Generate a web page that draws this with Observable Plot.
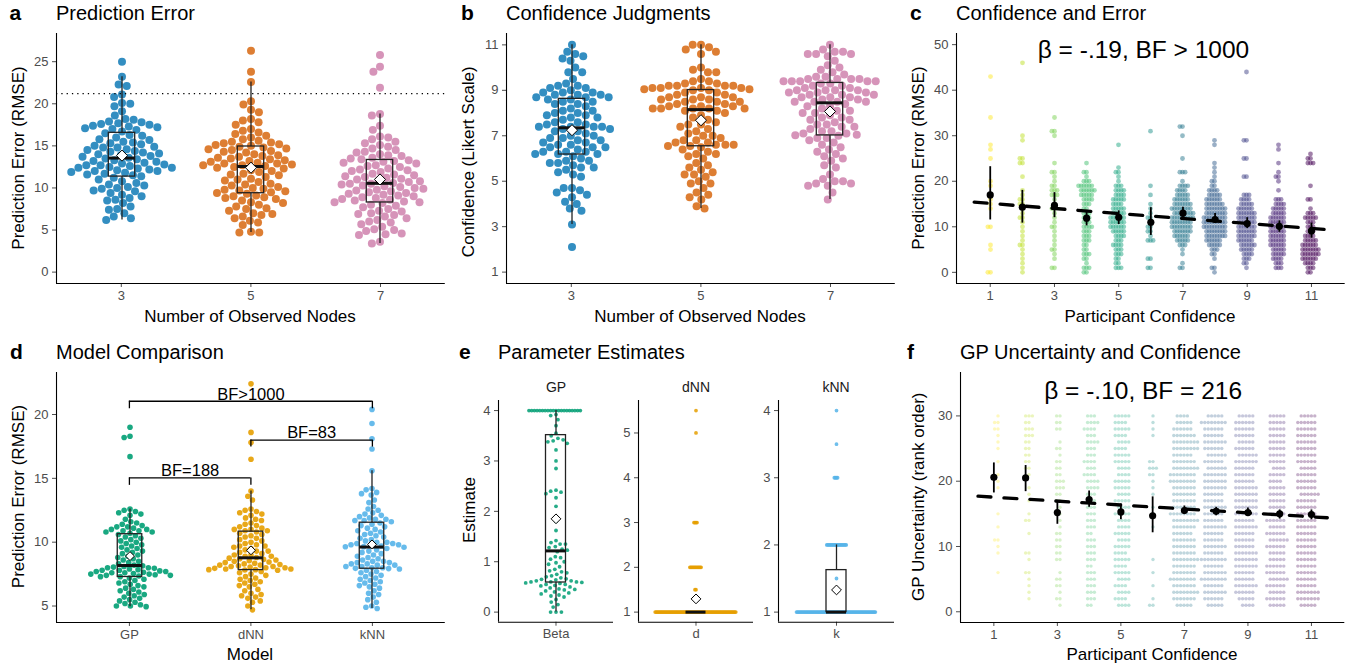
<!DOCTYPE html>
<html>
<head>
<meta charset="utf-8">
<script src="https://cdn.jsdelivr.net/npm/d3@7"></script>
<script src="https://cdn.jsdelivr.net/npm/@observablehq/plot@0.6"></script>
<style>
html, body { margin: 0; padding: 0; background: #fff; }
#fig { position: relative; width: 1353px; height: 665px; overflow: hidden; background: #fff; font-family: "Liberation Sans", Arial, Helvetica, sans-serif; }
.layer { position: absolute; }
.layer svg { display: block; max-width: none !important; }
#labels { position: absolute; left: 0; top: 0; pointer-events: none; }
</style>
</head>
<body>
<div id="fig"></div>
<script>
// ---------------- DATA ----------------
// Panel a/b: number of observed nodes
const nodeCats = [3, 5, 7];
const nodeColors = ["#0072B2", "#D55E00", "#CC79A7"];
const errNodes3 = [25.0, 23.2, 22.3, 22.1, 21.1, 20.8, 20.1, 20.0, 19.7, 19.1, 18.6, 18.2, 18.1, 17.9, 17.8, 17.7, 17.6, 17.5, 17.4, 17.3, 17.2, 17.1, 17.0, 16.9, 16.7,
  16.5, 16.3, 16.2, 16.0, 15.8, 15.7, 15.5, 15.4, 15.3, 15.2, 15.0, 14.9, 14.8, 14.8, 14.6, 14.5, 14.4, 14.3, 14.2, 14.1, 14.0, 13.9, 13.8, 13.7, 13.6,
  13.5, 13.4, 13.3, 13.2, 13.1, 13.0, 12.9, 12.8, 12.7, 12.7, 12.6, 12.5, 12.4, 12.4, 12.3, 12.2, 12.1, 12.0, 12.0, 11.9, 11.8, 11.7, 11.6, 11.5, 11.4,
  11.2, 11.0, 10.8, 10.6, 10.4, 10.3, 10.1, 10.0, 9.9, 9.7, 9.6, 9.4, 9.2, 9.0, 8.8, 8.6, 8.5, 8.2, 7.8, 7.5, 7.4, 7.0, 6.6, 6.4, 6.2];
const errNodes5 = [26.3, 23.8, 22.6, 20.3, 19.9, 19.3, 19.0, 18.2, 18.0, 17.8, 17.5, 17.0, 16.8, 16.6, 16.4, 16.2, 16.0, 15.8, 15.6, 15.5, 15.4, 15.3, 15.2, 15.1, 15.0,
  14.9, 14.8, 14.7, 14.6, 14.5, 14.4, 14.3, 14.2, 14.0, 13.9, 13.8, 13.7, 13.6, 13.5, 13.4, 13.3, 13.2, 13.1, 13.0, 12.9, 12.9, 12.8, 12.7, 12.7, 12.6,
  12.5, 12.4, 12.3, 12.1, 12.0, 11.9, 11.7, 11.6, 11.5, 11.3, 11.1, 11.0, 10.9, 10.7, 10.5, 10.4, 10.3, 10.1, 10.0, 9.9, 9.8, 9.7, 9.6, 9.5, 9.4,
  9.3, 9.1, 9.0, 8.9, 8.8, 8.7, 8.5, 8.3, 8.2, 8.0, 7.8, 7.6, 7.5, 7.3, 7.0, 6.9, 6.8, 6.6, 6.4, 6.1, 5.9, 5.6, 4.8, 4.7, 4.7];
const errNodes7 = [25.8, 24.4, 23.8, 21.9, 18.8, 18.6, 17.4, 16.9, 16.1, 16.0, 15.8, 15.5, 15.3, 15.1, 14.9, 14.7, 14.5, 14.3, 14.2, 14.0, 13.9, 13.8, 13.6, 13.5, 13.4,
  13.3, 13.2, 13.1, 13.0, 12.9, 12.7, 12.6, 12.5, 12.3, 12.2, 12.1, 12.0, 11.9, 11.7, 11.6, 11.5, 11.4, 11.3, 11.2, 11.1, 11.0, 10.9, 10.8, 10.7, 10.6,
  10.5, 10.5, 10.4, 10.3, 10.2, 10.1, 10.0, 9.9, 9.8, 9.7, 9.6, 9.5, 9.4, 9.3, 9.2, 9.1, 9.0, 8.9, 8.8, 8.7, 8.6, 8.5, 8.4, 8.3, 8.3,
  8.2, 8.0, 7.9, 7.7, 7.5, 7.3, 7.2, 7.0, 6.9, 6.8, 6.6, 6.4, 6.2, 6.0, 5.9, 5.7, 5.4, 5.1, 5.0, 4.9, 4.6, 4.5, 4.4, 3.6, 3.4];
const chanceRMSE = 21.2;
const confNodes3 = [11.0, 10.7, 10.6, 10.5, 10.4, 10.3, 10.0, 9.8, 9.8, 9.5, 9.3, 9.2, 9.2, 9.1, 9.1, 9.0, 8.9, 8.9, 8.9, 8.8, 8.8, 8.8, 8.7, 8.7, 8.7,
  8.6, 8.6, 8.5, 8.5, 8.4, 8.4, 8.3, 8.2, 8.1, 8.1, 8.0, 8.0, 7.9, 7.9, 7.8, 7.8, 7.7, 7.6, 7.6, 7.5, 7.5, 7.4, 7.4, 7.4, 7.4,
  7.3, 7.3, 7.2, 7.2, 7.1, 7.0, 7.0, 6.9, 6.9, 6.8, 6.8, 6.7, 6.7, 6.6, 6.6, 6.5, 6.5, 6.5, 6.4, 6.3, 6.3, 6.3, 6.2, 6.2, 6.2,
  6.1, 6.0, 5.9, 5.9, 5.8, 5.8, 5.7, 5.6, 5.6, 5.5, 5.4, 5.3, 5.2, 4.7, 4.7, 4.6, 4.5, 4.4, 4.3, 4.1, 4.0, 3.8, 3.7, 3.1, 2.1];
const confNodes5 = [11.0, 11.0, 10.9, 10.8, 10.7, 10.6, 10.0, 9.9, 9.8, 9.8, 9.5, 9.4, 9.4, 9.3, 9.3, 9.2, 9.2, 9.2, 9.2, 9.1, 9.1, 9.1, 9.1, 9.05, 9.05,
  9.0, 9.0, 8.9, 8.9, 8.8, 8.8, 8.7, 8.7, 8.7, 8.6, 8.6, 8.6, 8.5, 8.5, 8.5, 8.4, 8.4, 8.3, 8.3, 8.3, 8.2, 8.2, 8.2, 8.2, 8.2,
  8.1, 8.1, 8.0, 7.9, 7.8, 7.7, 7.6, 7.5, 7.5, 7.4, 7.3, 7.2, 7.1, 7.0, 7.0, 6.9, 6.8, 6.8, 6.7, 6.7, 6.6, 6.6, 6.6, 6.55, 6.55,
  6.5, 6.4, 6.3, 6.2, 6.2, 6.1, 6.0, 5.8, 5.7, 5.6, 5.5, 5.4, 5.3, 5.3, 5.2, 5.0, 4.9, 4.9, 4.7, 4.5, 4.4, 4.3, 4.2, 3.9, 3.8];
const confNodes7 = [11.0, 10.8, 10.7, 10.7, 10.6, 10.6, 10.6, 10.5, 10.3, 10.1, 10.0, 9.9, 9.8, 9.7, 9.6, 9.6, 9.5, 9.5, 9.5, 9.5, 9.4, 9.4, 9.4, 9.4, 9.4,
  9.3, 9.3, 9.2, 9.2, 9.1, 9.1, 9.0, 9.0, 9.0, 9.0, 8.9, 8.9, 8.9, 8.8, 8.8, 8.8, 8.7, 8.7, 8.7, 8.6, 8.6, 8.5, 8.5, 8.5, 8.5,
  8.4, 8.3, 8.3, 8.2, 8.1, 8.1, 8.0, 8.0, 7.9, 7.8, 7.8, 7.7, 7.7, 7.6, 7.5, 7.5, 7.4, 7.4, 7.3, 7.2, 7.2, 7.1, 7.1, 7.05, 7.02,
  7.0, 6.9, 6.9, 6.8, 6.7, 6.6, 6.5, 6.4, 6.3, 6.2, 6.1, 6.0, 5.9, 5.7, 5.6, 5.3, 5.1, 5.0, 5.0, 4.9, 4.9, 4.8, 4.8, 4.5, 4.2];

// Panel d: model comparison
const models = ["GP", "dNN", "kNN"];
const modelColors = ["#009E73", "#E69F00", "#56B4E9"];
const errGP = [19.0, 18.3, 18.2, 16.7, 12.6, 12.5, 12.4, 12.3, 12.2, 12.1, 11.8, 11.6, 11.5, 11.4, 11.3, 11.2, 11.2, 11.1, 11.0, 11.0, 10.9, 10.9, 10.8, 10.8, 10.7,
  10.6, 10.5, 10.4, 10.3, 10.2, 10.1, 10.0, 9.9, 9.8, 9.7, 9.6, 9.5, 9.4, 9.3, 9.2, 9.1, 9.0, 8.9, 8.8, 8.7, 8.6, 8.5, 8.4, 8.3, 8.2,
  8.15, 8.1, 8.05, 8.0, 8.0, 7.95, 7.9, 7.85, 7.8, 7.8, 7.75, 7.7, 7.7, 7.65, 7.6, 7.6, 7.55, 7.5, 7.5, 7.45, 7.4, 7.4, 7.35, 7.3, 7.3,
  7.2, 7.1, 7.0, 6.9, 6.8, 6.7, 6.6, 6.5, 6.4, 6.3, 6.2, 6.1, 6.0, 5.9, 5.8, 5.7, 5.6, 5.5, 5.4, 5.3, 5.2, 5.1, 5.0, 5.0, 4.95];
const errDNN = [22.4, 18.6, 17.8, 16.5, 14.0, 13.6, 13.3, 12.6, 12.5, 12.4, 12.3, 12.2, 12.1, 11.9, 11.8, 11.7, 11.5, 11.4, 11.3, 11.2, 11.1, 11.0, 11.0, 10.9, 10.9,
  10.8, 10.7, 10.6, 10.5, 10.4, 10.3, 10.2, 10.1, 10.0, 9.9, 9.8, 9.7, 9.7, 9.6, 9.5, 9.4, 9.3, 9.3, 9.2, 9.1, 9.0, 9.0, 8.9, 8.9, 8.8,
  8.75, 8.7, 8.65, 8.6, 8.55, 8.5, 8.45, 8.4, 8.35, 8.3, 8.25, 8.2, 8.2, 8.15, 8.1, 8.1, 8.05, 8.0, 8.0, 7.95, 7.9, 7.9, 7.85, 7.85, 7.82,
  7.8, 7.7, 7.6, 7.5, 7.4, 7.3, 7.2, 7.1, 7.0, 6.9, 6.8, 6.7, 6.6, 6.5, 6.3, 6.2, 6.0, 5.9, 5.8, 5.7, 5.6, 5.4, 5.3, 5.0, 4.7];
const errKNN = [20.4, 19.3, 18.1, 17.3, 15.6, 14.2, 14.1, 13.9, 13.8, 13.7, 13.3, 13.1, 12.8, 12.6, 12.5, 12.3, 12.2, 12.1, 12.0, 11.9, 11.8, 11.8, 11.7, 11.7, 11.6,
  11.5, 11.4, 11.3, 11.2, 11.1, 11.0, 10.9, 10.8, 10.7, 10.6, 10.5, 10.4, 10.3, 10.2, 10.1, 10.0, 10.0, 9.9, 9.9, 9.8, 9.8, 9.7, 9.7, 9.65, 9.64,
  9.6, 9.5, 9.4, 9.3, 9.2, 9.1, 9.0, 8.9, 8.8, 8.7, 8.6, 8.5, 8.5, 8.4, 8.4, 8.3, 8.3, 8.2, 8.2, 8.1, 8.1, 8.0, 8.0, 7.95, 7.93,
  7.9, 7.8, 7.7, 7.6, 7.5, 7.4, 7.3, 7.2, 7.1, 7.0, 6.9, 6.8, 6.7, 6.6, 6.5, 6.4, 6.2, 6.0, 5.9, 5.7, 5.5, 5.3, 5.0, 4.9, 4.8];
const bfLabels = ["BF>1000", "BF=83", "BF=188"];
const bfFrom = [1, 2, 1];
const bfTo = [3, 3, 2];
const bfY = [21.04, 18.0, 15.03];
const bfTip = [20.45, 17.45, 14.45];

// Panel e: parameter estimates
const paramNames = ["Beta", "d", "k"];
const betaCap = 4;
const betaGP = [4, 4, 4, 4, 4, 4, 4, 4, 4, 4, 4, 4, 4, 4, 4, 4, 4, 4, 4, 4, 3.92, 3.9, 3.82, 3.7, 3.55,
  3.5, 3.45, 3.42, 3.4, 3.38, 3.35, 3.22, 3.0, 2.85, 2.42, 2.4, 2.38, 2.35, 2.27, 2.1, 1.8, 1.62, 1.42, 1.38, 1.35, 1.35, 1.3, 1.28, 1.25, 1.23,
  1.2, 1.1, 1.08, 1.05, 1.0, 0.98, 0.95, 0.9, 0.85, 0.82, 0.8, 0.78, 0.75, 0.72, 0.7, 0.68, 0.66, 0.65, 0.64, 0.62, 0.62, 0.6, 0.6, 0.6, 0.59,
  0.58, 0.57, 0.55, 0.55, 0.53, 0.52, 0.5, 0.48, 0.46, 0.45, 0.44, 0.42, 0.4, 0.38, 0.36, 0.34, 0.32, 0.3, 0.25, 0.2, 0.15, 0.1, 0, 0, 0];
const dNNCounts = [[1, 80], [1.5, 2], [2, 12], [3, 4], [5, 1], [5.5, 1]];   // [value, number of participants]
const kNNCounts = [[1, 74], [1.5, 1], [2, 19], [3, 4], [3.5, 1], [4, 1]];

// Panel c: prediction error by participant confidence, [RMSE, count]
const confLevels = [1, 2, 3, 4, 5, 6, 7, 8, 9, 10, 11];
const errConf1 = [[0,2],[5,1],[6,1],[10,2],[14,1],[15,1],[16,1],[19,1],[20,1],[25,1],[27,1],[28,1],[34,1],[43,1]];
const errConf2 = [[0,1],[1,1],[2,1],[3,1],[4,1],[5,1],[6,2],[7,1],[8,1],[9,1],[10,1],[11,1],[12,2],[13,1],[14,1],[15,2],[16,2],[17,1],[18,1],[21,1],[24,2],[25,2],[29,1],[30,1],[46,1]];
const errConf3 = [[1,2],[3,1],[4,1],[5,2],[6,1],[7,1],[8,1],[9,1],[10,2],[11,1],[12,1],[13,1],[14,2],[15,1],[16,1],[17,3],[18,3],[19,2],[20,1],[21,1],[22,2],[24,1],[30,1],[31,2],[34,1]];
const errConf4 = [[0,2],[1,3],[2,1],[3,2],[4,3],[5,2],[6,2],[7,3],[8,3],[9,3],[10,4],[11,3],[12,3],[13,3],[14,2],[15,3],[16,4],[17,5],[18,6],[19,6],[20,3],[21,1],[22,2],[24,1]];
const errConf5 = [[1,3],[2,2],[3,2],[4,3],[5,3],[6,4],[7,3],[8,4],[9,5],[10,6],[11,6],[12,6],[13,5],[14,5],[15,4],[16,5],[17,4],[18,4],[19,3],[20,1],[21,1],[22,2],[23,1],[28,1]];
const errConf6 = [[1,2],[3,2],[7,3],[8,1],[9,2],[10,2],[11,1],[12,2],[13,1],[14,1],[15,1],[17,1],[19,1],[31,1]];
const errConf7 = [[1,2],[2,1],[4,1],[5,1],[6,3],[7,5],[8,6],[9,7],[10,8],[11,8],[12,9],[13,8],[14,8],[15,7],[16,6],[17,5],[18,4],[19,4],[20,1],[22,3],[25,1],[30,1],[32,2]];
const errConf8 = [[0,1],[1,2],[3,1],[4,2],[5,3],[6,5],[7,6],[8,8],[9,8],[10,9],[11,9],[12,9],[13,8],[14,8],[15,7],[16,6],[17,5],[18,4],[19,2],[20,2],[21,1],[22,1],[23,1],[24,1],[28,1],[29,1]];
const errConf9 = [[1,1],[2,2],[3,3],[4,4],[5,5],[6,6],[7,6],[8,7],[9,7],[10,7],[11,7],[12,7],[13,7],[14,6],[15,5],[16,4],[17,3],[21,2],[25,2],[29,2],[44,1]];
const errConf10 = [[1,3],[2,3],[3,4],[4,5],[5,5],[6,6],[7,6],[8,6],[9,6],[10,6],[11,6],[12,6],[13,5],[14,5],[15,4],[16,3],[18,1],[20,1],[21,2],[22,1],[24,1],[27,1],[28,1]];
const errConf11 = [[0,2],[1,3],[2,4],[3,6],[4,7],[5,7],[6,6],[7,5],[8,4],[9,3],[10,3],[11,3],[12,5],[13,3],[14,1],[16,2],[19,1],[24,3],[25,2],[26,1]];
const errConfMean = [17.0, 14.3, 14.7, 11.9, 12.1, 11.0, 13.0, 11.6, 10.7, 10.1, 9.1];
const errConfLo = [11.5, 10.8, 12.0, 10.2, 10.5, 8.1, 11.8, 10.7, 9.6, 8.8, 7.5];
const errConfHi = [23.2, 18.0, 17.5, 13.6, 13.5, 14.2, 14.3, 12.9, 12.0, 11.3, 10.8];
const fitX = [0.5, 11.5];
const errFitY = [15.4, 9.36];
const statC = "β = -.19, BF > 1000";
const statCPos = [5.77, 48.7];

// Panel f: GP uncertainty rank (1..30) counts per confidence level
const rankConf1 = [0,0,0,0,0,1,0,0,1,1,2,0,1,0,1,0,0,0,1,1,1,0,1,0,1,1,1,2,2,1];
const rankConf2 = [0,1,1,1,1,2,0,1,2,0,0,1,0,2,1,0,1,1,1,0,1,2,2,2,2,2,3,3,2,3];
const rankConf3 = [1,2,1,2,2,1,0,2,2,2,2,2,1,1,1,1,2,2,3,3,2,2,2,1,2,1,0,2,2,2];
const rankConf4 = [2,3,3,3,3,3,2,3,3,3,3,2,3,3,3,3,3,3,4,4,4,3,4,3,3,4,3,4,4,3];
const rankConf5 = [4,4,4,4,4,5,4,5,4,5,4,5,4,4,5,4,5,4,5,5,4,4,5,5,4,4,4,5,4,5];
const rankConf6 = [2,1,0,1,0,1,0,1,0,0,0,0,1,0,1,1,0,1,1,1,2,3,2,0,0,0,1,1,1,1];
const rankConf7 = [5,7,8,7,8,7,7,8,7,7,7,6,7,8,8,7,7,7,7,8,8,8,7,6,8,8,7,6,5,4];
const rankConf8 = [5,6,7,6,8,7,6,8,6,7,6,6,7,6,6,7,6,6,7,7,7,6,6,6,6,7,6,6,8,5];
const rankConf9 = [4,5,6,7,6,6,7,7,7,6,6,6,7,6,7,7,7,7,7,6,6,6,7,6,6,5,6,6,6,5];
const rankConf10 = [5,6,5,6,6,6,6,5,5,6,6,6,5,6,5,5,5,5,5,4,5,4,5,5,5,5,5,5,5,5];
const rankConf11 = [5,7,7,6,6,6,6,6,6,6,6,6,6,6,6,6,6,6,6,6,6,5,6,6,6,6,6,6,6,5];
const uncMean = [20.6, 20.5, 15.2, 17.2, 15.3, 14.7, 15.5, 15.4, 15.2, 15.0, 14.9];
const uncLo = [18.2, 18.4, 13.4, 16.0, 14.1, 12.1, 14.9, 14.7, 14.6, 14.2, 14.1];
const uncHi = [22.8, 22.4, 16.9, 18.5, 16.5, 17.6, 16.2, 16.0, 15.9, 15.6, 15.6];
const uncFitY = [17.7, 14.4];
const statF = "β = -.10, BF = 216";
const statFPos = [5.70, 33.8];

// ---------------- HELPERS ----------------
const FONT = "'Liberation Sans', Arial, Helvetica, sans-serif";
const M = {l: 52, r: 8, t: 8, b: 30};
const fig = document.getElementById("fig");
const expand = pairs => pairs.flatMap(([v, n]) => Array.from({length: n}, () => v));
const plain = d => String(d);
// viridis, reversed: level 1 yellow ... level 11 purple
const viridisRev = {type: "ordinal", domain: confLevels, range: confLevels.map((_, i) => d3.interpolateViridis(1 - i / (confLevels.length - 1)))};

function boxStats(values, extra = {}) {
  const s = values.slice().sort(d3.ascending);
  const q1 = d3.quantileSorted(s, 0.25), med = d3.quantileSorted(s, 0.5), q3 = d3.quantileSorted(s, 0.75);
  const iqr = q3 - q1;
  const lo = d3.min(s.filter(v => v >= q1 - 1.5 * iqr));
  const hi = d3.max(s.filter(v => v <= q3 + 1.5 * iqr));
  return {...extra, q1, med, q3, lo, hi, mean: d3.mean(s)};
}

function dims(fr) {
  return {
    width: fr.x1 - fr.x0 + M.l + M.r,
    height: fr.y1 - fr.y0 + M.t + M.b,
    marginLeft: M.l, marginRight: M.r, marginTop: M.t, marginBottom: M.b,
    style: `background:none;overflow:visible;max-width:none;font-family:${FONT};font-size:13px;color:#4D4D4D;`
  };
}

function place(svg, fr) {
  const div = document.createElement("div");
  div.className = "layer";
  div.style.left = (fr.x0 - M.l) + "px";
  div.style.top = (fr.y0 - M.t) + "px";
  div.appendChild(svg);
  fig.appendChild(div);
}

function boxMarks(stats, ins, dR, extra) {
  const st = {stroke: "#222", strokeWidth: 1.3};
  return [
    Plot.ruleX(stats, {...extra, ...st, x: () => 0, y1: "lo", y2: "q1"}),
    Plot.ruleX(stats, {...extra, ...st, x: () => 0, y1: "q3", y2: "hi"}),
    Plot.barY(stats, {...extra, ...st, y1: "q1", y2: "q3", fill: "none", insetLeft: ins, insetRight: ins}),
    Plot.tickY(stats, {...extra, y: "med", stroke: "#111", strokeWidth: 3, insetLeft: ins, insetRight: ins}),
    Plot.dot(stats, {...extra, x: () => 0, y: "mean", symbol: "diamond2", r: dR, fill: "white", stroke: "black", strokeWidth: 1})
  ];
}

function basePlot(fr, xCfg, yCfg, extraMarks) {
  return Plot.plot({
    ...dims(fr),
    x: {tickSize: 4, tickPadding: 3, label: null, tickFormat: plain, ...xCfg},
    y: {tickSize: 4, tickPadding: 4, label: null, tickFormat: plain, ...yCfg},
    marks: [
      Plot.ruleX([xCfg.domain[0]], {stroke: "black", strokeWidth: 1.1}),
      Plot.ruleY([yCfg.domain[0]], {stroke: "black", strokeWidth: 1.1}),
      ...extraMarks
    ]
  });
}

function swarmPanel(cfg) {
  const {fr, xDomain, catPos, cats, yDomain, points, stats, color, r, pad, opacity, boxW, diamondR} = cfg;
  const fw = fr.x1 - fr.x0;
  const step = catPos[1] - catPos[0];
  const pOuter = ((catPos[0] - step / 2) - xDomain[0]) / step;
  const band = fw / (cats.length + 2 * pOuter);
  const marks = [
    Plot.dot(points, Plot.dodgeX({anchor: "middle", padding: pad}, {fx: "cat", y: "value", r, fill: "cat", fillOpacity: opacity}))
  ];
  if (stats) marks.push(...boxMarks(stats, (band - boxW) / 2, diamondR, {fx: "cat"}));
  const svg = Plot.plot({
    ...dims(fr),
    fx: {domain: cats, paddingInner: 0, paddingOuter: pOuter, axis: null, label: null},
    x: {domain: [-1, 1], axis: null},
    y: {domain: yDomain, axis: null},
    color,
    marks
  });
  place(svg, fr);
}

// ---------------- PANEL a ----------------
{
  const fr = {x0: 55.7, x1: 444.5, y0: 33, y1: 283};
  const yDomain = [-1.35, 28.35];
  const groups = [errNodes3, errNodes5, errNodes7];
  const points = nodeCats.flatMap((c, i) => groups[i].map(v => ({cat: c, value: v})));
  const stats = nodeCats.map((c, i) => boxStats(groups[i], {cat: c}));
  swarmPanel({fr, xDomain: [2, 8], catPos: nodeCats, cats: nodeCats, yDomain, points, stats,
    color: {domain: nodeCats, range: nodeColors}, r: 4, pad: 0.3, opacity: 0.8, boxW: 27, diamondR: 5});
  place(basePlot(fr, {domain: [2, 8], ticks: nodeCats}, {domain: yDomain, ticks: [0, 5, 10, 15, 20, 25]},
    [Plot.ruleY([chanceRMSE], {stroke: "black", strokeWidth: 1.3, strokeDasharray: "1.3,4"})]), fr);
}

// ---------------- PANEL b ----------------
{
  const fr = {x0: 505.7, x1: 894.5, y0: 33, y1: 283};
  const yDomain = [0.5, 11.5];
  const groups = [confNodes3, confNodes5, confNodes7];
  const points = nodeCats.flatMap((c, i) => groups[i].map(v => ({cat: c, value: v})));
  const stats = nodeCats.map((c, i) => boxStats(groups[i], {cat: c}));
  swarmPanel({fr, xDomain: [2, 8], catPos: nodeCats, cats: nodeCats, yDomain, points, stats,
    color: {domain: nodeCats, range: nodeColors}, r: 4, pad: 0.3, opacity: 0.8, boxW: 27, diamondR: 5});
  place(basePlot(fr, {domain: [2, 8], ticks: nodeCats}, {domain: yDomain, ticks: [1, 3, 5, 7, 9, 11]}, []), fr);
}

// ---------------- PANEL c ----------------
{
  const fr = {x0: 955.7, x1: 1344.4, y0: 33, y1: 283};
  const yDomain = [-2.45, 52.45];
  const xDomain = [-0.05, 12.05];
  const lists = [errConf1, errConf2, errConf3, errConf4, errConf5, errConf6, errConf7, errConf8, errConf9, errConf10, errConf11];
  const points = confLevels.flatMap((lvl, i) => expand(lists[i]).map(v => ({cat: lvl, value: v})));
  swarmPanel({fr, xDomain, catPos: confLevels, cats: confLevels, yDomain, points, stats: null,
    color: viridisRev, r: 2.4, pad: -2.15, opacity: 0.5});
  const means = confLevels.map((lvl, i) => ({lvl, mean: errConfMean[i], lo: errConfLo[i], hi: errConfHi[i]}));
  const fit = fitX.map((x, i) => ({x, y: errFitY[i]}));
  place(basePlot(fr, {domain: xDomain, ticks: [1, 3, 5, 7, 9, 11]}, {domain: yDomain, ticks: [0, 10, 20, 30, 40, 50]}, [
    Plot.line(fit, {x: "x", y: "y", stroke: "black", strokeWidth: 3.3, strokeDasharray: "13,13"}),
    Plot.ruleX(means, {x: "lvl", y1: "lo", y2: "hi", stroke: "black", strokeWidth: 1.8}),
    Plot.dot(means, {x: "lvl", y: "mean", r: 3.6, fill: "black"}),
    Plot.text([statC], {x: statCPos[0], y: statCPos[1], text: d => d, fontSize: 24.5, fill: "black"})
  ]), fr);
}

// ---------------- PANEL d ----------------
{
  const fr = {x0: 55.7, x1: 444.5, y0: 371.7, y1: 621.7};
  const yDomain = [3.71, 23.29];
  const groups = [errGP, errDNN, errKNN];
  const points = models.flatMap((m, i) => groups[i].map(v => ({cat: m, value: v})));
  const stats = models.map((m, i) => boxStats(groups[i], {cat: m}));
  swarmPanel({fr, xDomain: [0.4, 3.6], catPos: [1, 2, 3], cats: models, yDomain, points, stats,
    color: {domain: models, range: modelColors}, r: 2.8, pad: 0.4, opacity: 0.9, boxW: 25, diamondR: 4});
  const br = bfLabels.map((label, i) => ({label, from: bfFrom[i], to: bfTo[i], y: bfY[i], tip: bfTip[i], mid: (bfFrom[i] + bfTo[i]) / 2}));
  const bst = {stroke: "black", strokeWidth: 1.3};
  place(basePlot(fr, {domain: [0.4, 3.6], ticks: [1, 2, 3], tickFormat: d => models[d - 1]}, {domain: yDomain, ticks: [5, 10, 15, 20]}, [
    Plot.ruleY(br, {y: "y", x1: "from", x2: "to", ...bst}),
    Plot.ruleX(br, {x: "from", y1: "tip", y2: "y", ...bst}),
    Plot.ruleX(br, {x: "to", y1: "tip", y2: "y", ...bst}),
    Plot.text(br, {x: "mid", y: "y", text: "label", dy: -7, fontSize: 16.5, fill: "black"})
  ]), fr);
}

// ---------------- PANEL e ----------------
// dot: {r, pad, sw}: layout radius, dodge padding, extra stroke width (visual radius = r + sw/2)
function paramPanel(fr, name, values, yDomain, yTicks, color, dot, cap, capPad) {
  const fw = fr.x1 - fr.x0;
  const stats = [boxStats(values)];
  const pts = values.map(v => ({value: v}));
  const dotOpts = {y: "value", r: dot.r, fill: color, stroke: dot.sw ? color : "none", strokeWidth: dot.sw || 0, opacity: 0.85};
  const dots = cap === undefined
    ? [Plot.dot(pts, Plot.dodgeX({anchor: "middle", padding: dot.pad}, dotOpts))]
    : [Plot.dot(pts.filter(d => d.value !== cap), Plot.dodgeX({anchor: "middle", padding: dot.pad}, dotOpts)),
       Plot.dot(pts.filter(d => d.value === cap), Plot.dodgeX({anchor: "middle", padding: capPad}, dotOpts))];
  const svg = basePlot(fr, {domain: [-1, 1], ticks: [0], tickFormat: () => name}, {domain: yDomain, ticks: yTicks}, [
    ...dots,
    ...boxMarks(stats, (fw - 20) / 2, 4.4, {})
  ]);
  place(svg, fr);
}
paramPanel({x0: 498.3, x1: 613.3, y0: 400, y1: 621.7}, paramNames[0], betaGP, [-0.2, 4.2], [0, 1, 2, 3, 4], modelColors[0], {r: 1.9, pad: 1.6}, betaCap, -1.1);
paramPanel({x0: 638.3, x1: 753.3, y0: 400, y1: 621.7}, paramNames[1], expand(dNNCounts), [0.775, 5.725], [1, 2, 3, 4, 5], modelColors[1], {r: 1, pad: -0.98, sw: 1.8});
paramPanel({x0: 778.3, x1: 894.3, y0: 400, y1: 621.7}, paramNames[2], expand(kNNCounts), [0.85, 4.15], [1, 2, 3, 4], modelColors[2], {r: 1, pad: -0.92, sw: 1.8});

// ---------------- PANEL f ----------------
{
  const fr = {x0: 960, x1: 1344.3, y0: 371.7, y1: 621.7};
  const yDomain = [-1.64, 36.65];
  const xDomain = [-0.05, 12.05];
  const lists = [rankConf1, rankConf2, rankConf3, rankConf4, rankConf5, rankConf6, rankConf7, rankConf8, rankConf9, rankConf10, rankConf11];
  const points = confLevels.flatMap((lvl, i) => lists[i].flatMap((n, j) => Array.from({length: n}, () => ({cat: lvl, value: j + 1}))));
  swarmPanel({fr, xDomain, catPos: confLevels, cats: confLevels, yDomain, points, stats: null,
    color: viridisRev, r: 1.7, pad: 0, opacity: 0.3});
  const means = confLevels.map((lvl, i) => ({lvl, mean: uncMean[i], lo: uncLo[i], hi: uncHi[i]}));
  const fit = fitX.map((x, i) => ({x, y: uncFitY[i]}));
  place(basePlot(fr, {domain: xDomain, ticks: [1, 3, 5, 7, 9, 11]}, {domain: yDomain, ticks: [0, 10, 20, 30]}, [
    Plot.line(fit, {x: "x", y: "y", stroke: "black", strokeWidth: 3.3, strokeDasharray: "13,13"}),
    Plot.ruleX(means, {x: "lvl", y1: "lo", y2: "hi", stroke: "black", strokeWidth: 1.8}),
    Plot.dot(means, {x: "lvl", y: "mean", r: 3.6, fill: "black"}),
    Plot.text([statF], {x: statFPos[0], y: statFPos[1], text: d => d, fontSize: 24.5, fill: "black"})
  ]), fr);
}

// ---------------- TEXT LABELS ----------------
const ov = d3.select(fig).append("svg").attr("id", "labels").attr("width", 1353).attr("height", 665)
  .style("font-family", FONT);
function txt(s, x, y, o = {}) {
  const t = ov.append("text").attr("x", x).attr("y", y).text(s)
    .attr("font-size", o.size || 17).attr("fill", o.fill || "black")
    .attr("font-weight", o.weight || "normal").attr("text-anchor", o.anchor || "start");
  if (o.rotate) t.attr("transform", `rotate(-90 ${x} ${y})`);
}
const letters = ["a", "b", "c", "d", "e", "f"];
const titles = ["Prediction Error", "Confidence Judgments", "Confidence and Error", "Model Comparison", "Parameter Estimates", "GP Uncertainty and Confidence"];
const letterX = [9.5, 461, 910, 10, 459, 907];
const titleX = [56, 506, 956, 56, 498, 960];
const titleY = [20, 20, 20, 359, 359, 359];
letters.forEach((l, i) => {
  txt(l, letterX[i], titleY[i], {size: 21, weight: "bold"});
  txt(titles[i], titleX[i], titleY[i], {size: 20});
});
[["Number of Observed Nodes", 250, 321.5], ["Number of Observed Nodes", 700, 321.5], ["Participant Confidence", 1150, 321.5],
 ["Model", 250, 660], ["Participant Confidence", 1152, 660]].forEach(([s, x, y]) => txt(s, x, y, {anchor: "middle"}));
[["Prediction Error (RMSE)", 24, 158], ["Confidence (Likert Scale)", 474, 161.7], ["Prediction Error (RMSE)", 924, 158],
 ["Prediction Error (RMSE)", 24, 496.5], ["Estimate", 475, 510], ["GP Uncertainty (rank order)", 924, 496.7]]
  .forEach(([s, x, y]) => txt(s, x, y, {anchor: "middle", rotate: true}));
[["GP", 556], ["dNN", 696], ["kNN", 836]].forEach(([s, x]) => txt(s, x, 391.5, {anchor: "middle", size: 14, fill: "#1A1A1A"}));
</script>
</body>
</html>
